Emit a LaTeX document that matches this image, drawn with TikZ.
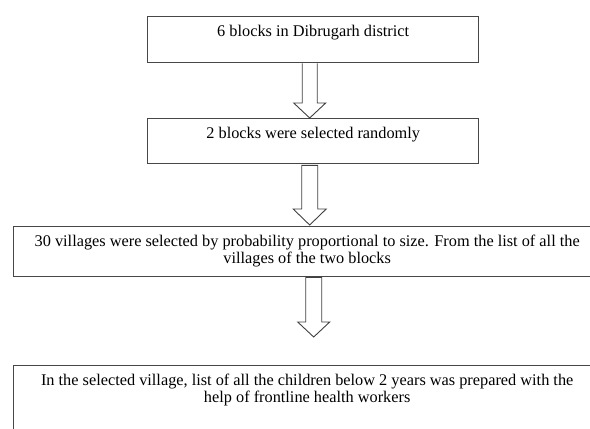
\documentclass[tikz,border=0pt]{standalone}
\usepackage{fontspec}
\setmainfont{Liberation Serif}
\usetikzlibrary{calc}
\begin{document}
\begin{tikzpicture}[x=1pt,y=-1pt,
  box/.style={draw=black!72,line width=1.4pt,rectangle,inner sep=0pt,anchor=north west},
  txt/.style={inner sep=0pt,align=center,anchor=base,font=\fontsize{16.3}{17.5}\selectfont},
  barrow/.style={draw=black!75,line width=0.9pt,line join=miter}]
\useasboundingbox (0,0) rectangle (590,429);
\clip (0,0) rectangle (590,429);
% boxes
\node[box,minimum width=331pt,minimum height=46pt] (b1) at (147,16) {};
\node[box,minimum width=331pt,minimum height=45pt] (b2) at (147,118) {};
\node[box,minimum width=587pt,minimum height=50pt] (b3) at (13,226) {};
\node[box,minimum width=587pt,minimum height=90pt] (b4) at (13,365) {};
% texts (base anchor = last line's baseline)
\node[txt] (t1) at ($(b1.north)+(0,20)$) {6 blocks in Dibrugarh district};
\node[txt] (t2) at ($(b2.north)+(0,20)$) {2 blocks were selected randomly};
\node[txt] (t3) at ($(b3.north)+(0,37.5)$) {30 villages were selected by probability proportional to size. From the list of all the\\villages of the two blocks};
\node[txt] (t4) at ($(b4.north)+(0,37.5)$) {In the selected village, list of all the children below 2 years was prepared with the\\help of frontline health workers};
% block arrows
\coordinate (a1) at ($(b1.south)+(-3.5,0)$);
\coordinate (a1t) at (a1 |- b2.north);
\draw[barrow] ($(a1)+(-7.5,0)$) -- ($(a1t)+(-7.5,-15)$) -- ($(a1t)+(-16,-15)$) -- (a1t)
  -- ($(a1t)+(16,-15)$) -- ($(a1t)+(7.5,-15)$) -- ($(a1)+(7.5,0)$);
\coordinate (a2) at ($(b2.south)+(-3.5,1)$);
\coordinate (a2t) at ($(a2 |- b3.north)+(0,-1)$);
\draw[barrow] ($(a2)+(-8,0)$) -- ($(a2t)+(-8,-16)$) -- ($(a2t)+(-16.5,-16)$) -- (a2t)
  -- ($(a2t)+(16.5,-16)$) -- ($(a2t)+(8,-16)$) -- ($(a2)+(8,0)$) -- cycle;
\coordinate (a3) at ($(b3.south)+(6.5,0)$);
\coordinate (a3t) at ($(a3 |- b4.north)+(0,-28)$);
\draw[barrow] ($(a3)+(-8,0)$) -- ($(a3t)+(-8,-15)$) -- ($(a3t)+(-16,-15)$) -- (a3t)
  -- ($(a3t)+(16,-15)$) -- ($(a3t)+(8,-15)$) -- ($(a3)+(8,0)$) -- cycle;
\end{tikzpicture}
\end{document}
